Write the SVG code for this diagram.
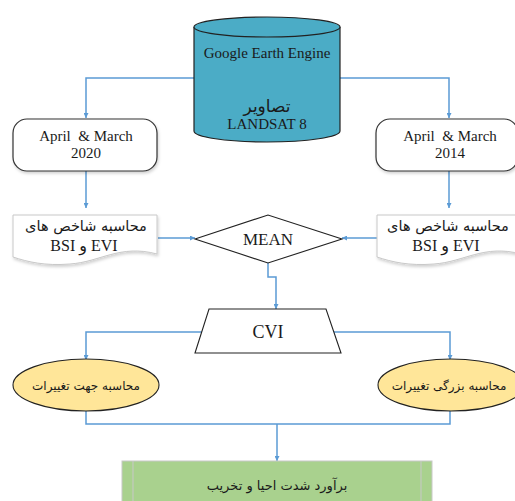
<svg xmlns="http://www.w3.org/2000/svg" width="515" height="501" viewBox="0 0 515 501">
<defs>
<marker id="arr" viewBox="0 0 10 10" refX="10" refY="5" markerWidth="5" markerHeight="5" orient="auto" markerUnits="userSpaceOnUse">
<path d="M0,0 L10,5 L0,10 Z" fill="#5B9BD5"/>
</marker>
<filter id="sh" x="-10%" y="-10%" width="130%" height="140%">
<feDropShadow dx="1" dy="2" stdDeviation="1.5" flood-color="#000" flood-opacity="0.18"/>
</filter>
</defs>
<style>
.t{font-family:"Liberation Serif","DejaVu Sans",serif;fill:#1a1a1a;text-anchor:middle}
.fa{font-family:"DejaVu Sans","Liberation Serif",sans-serif;fill:#1a1a1a;text-anchor:middle}
.c{fill:none;stroke:#5B9BD5;stroke-width:1.5}
.rb{fill:#fff;stroke:#333;stroke-width:1.2}
.doc{fill:#fff;stroke:#c8c8c8;stroke-width:1}
.el{fill:#FFE699;stroke:#222;stroke-width:1.1}
</style>
<rect width="515" height="501" fill="#fff"/>

<g id="connectors">
<path class="c" d="M194,78 H86 V118" marker-end="url(#arr)"/>
<path class="c" d="M340,78 H449 V118" marker-end="url(#arr)"/>
<path class="c" d="M86,171 V208" marker-end="url(#arr)"/>
<path class="c" d="M449,171 V208" marker-end="url(#arr)"/>
<path class="c" d="M158,238 H195" marker-end="url(#arr)"/>
<path class="c" d="M377,238 H342" marker-end="url(#arr)"/>
<path class="c" d="M268,263 V277 H276 V309" marker-end="url(#arr)"/>
<path class="c" d="M202,332 H86 V360" marker-end="url(#arr)"/>
<path class="c" d="M334,332 H450 V360" marker-end="url(#arr)"/>
<path class="c" d="M86,411 V424 H450 V411"/>
<path class="c" d="M277,424 V461" marker-end="url(#arr)"/>
</g>

<g id="gee">
<path d="M194,27 V131 A73,11 0 0 0 340,131 V27" fill="#4BACC6" stroke="#222" stroke-width="1.2"/>
<ellipse cx="267" cy="27" rx="73" ry="10" fill="#4BACC6" stroke="#222" stroke-width="1.2"/>
<text class="t" x="267" y="58" font-size="15">Google Earth Engine</text>
<text class="fa" x="267" y="112" font-size="17">تصاویر</text>
<text class="t" x="267" y="129" font-size="15">LANDSAT 8</text>
</g>

<g id="box2020">
<rect class="rb" x="13" y="119" width="144" height="52" rx="14" filter="url(#sh)"/>
<text class="t" x="86" y="141" font-size="15">April&#160; &amp; March</text>
<text class="t" x="86" y="158" font-size="15">2020</text>
</g>

<g id="box2014">
<rect class="rb" x="376" y="119" width="142" height="52" rx="14" filter="url(#sh)"/>
<text class="t" x="450" y="141" font-size="15">April&#160; &amp; March</text>
<text class="t" x="450" y="158" font-size="15">2014</text>
</g>

<g id="docLeft">
<path class="doc" filter="url(#sh)" d="M13,215 H157 V254 C120,244 100,262 70,264 C45,266 28,262 13,257 Z"/>
<text class="fa" x="86" y="231" font-size="14.5">محاسبه شاخص های</text>
<text class="t" x="84" y="251" font-size="16">BSI و EVI</text>
</g>

<g id="docRight">
<path class="doc" filter="url(#sh)" d="M377,215 H521 V254 C484,244 464,262 434,264 C409,266 392,262 377,257 Z"/>
<text class="fa" x="448" y="231" font-size="14.5">محاسبه شاخص های</text>
<text class="t" x="446" y="251" font-size="16">BSI و EVI</text>
</g>

<g id="mean">
<polygon points="195,239 268,215 342,239 268,263" fill="#fff" stroke="#222" stroke-width="1.1"/>
<text class="t" x="268" y="245" font-size="17">MEAN</text>
</g>

<g id="cvi">
<polygon points="209,309 326,309 341,353 195,353" fill="#fff" stroke="#222" stroke-width="1.1"/>
<text class="t" x="268" y="338" font-size="18">CVI</text>
</g>

<g id="dirChange">
<ellipse class="el" cx="86" cy="385" rx="73" ry="26"/>
<text class="fa" x="86" y="390" font-size="12">محاسبه جهت تغییرات</text>
</g>

<g id="magChange">
<ellipse class="el" cx="451" cy="385" rx="73" ry="26"/>
<text class="fa" x="449" y="390" font-size="12">محاسبه بزرگی تغییرات</text>
</g>

<g id="result">
<rect x="122" y="461" width="310" height="45" fill="#A9D18E" stroke="#c8c8c8" stroke-width="1"/>
<line x1="133" y1="461" x2="133" y2="501" stroke="#c8c8c8" stroke-width="1"/>
<line x1="421" y1="461" x2="421" y2="501" stroke="#c8c8c8" stroke-width="1"/>
<text class="fa" x="277" y="490" font-size="13">برآورد شدت احیا و تخریب</text>
</g>
</svg>
